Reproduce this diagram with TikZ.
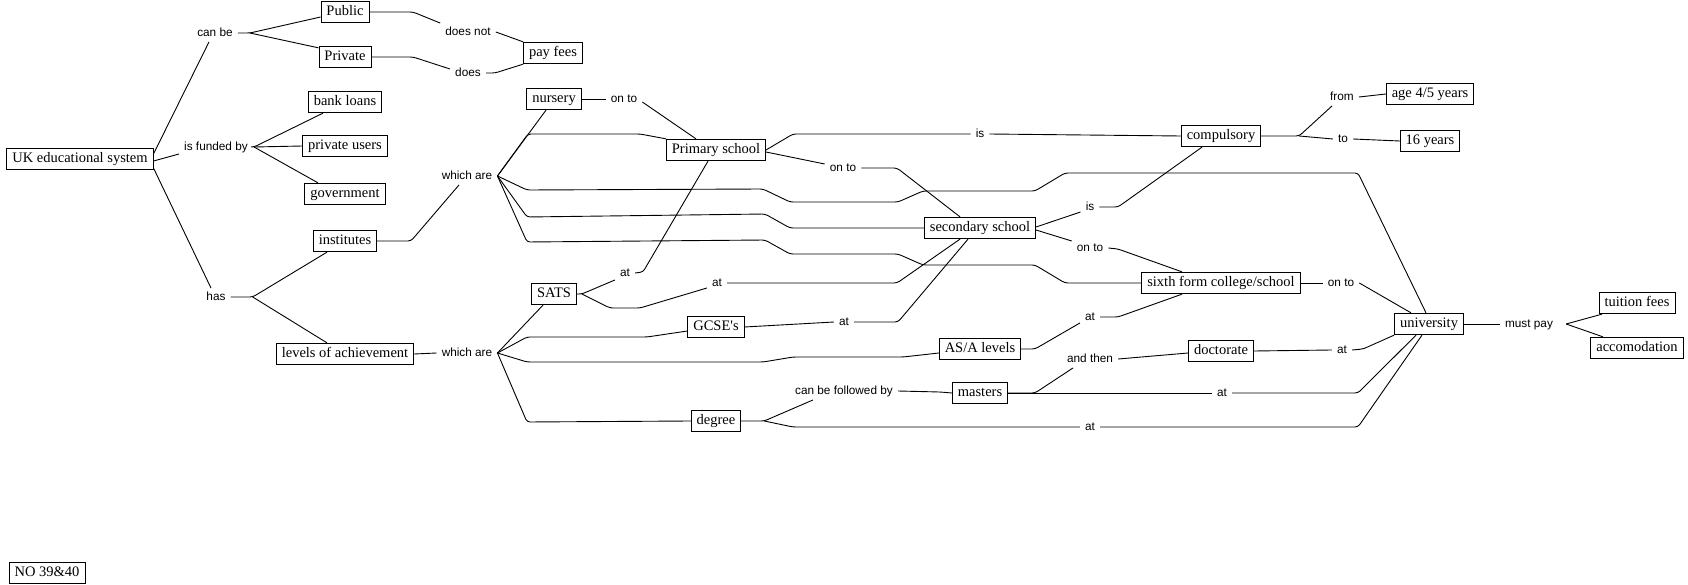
\documentclass[tikz,border=0pt]{standalone}
\usepackage{fontspec}
\setmainfont{Liberation Serif}[Ligatures=TeXOff]
\newfontfamily\labfont{Liberation Sans}
\begin{document}
\begin{tikzpicture}[x=1pt,y=-1pt,
 concept/.style={draw, fill=white, line width=0.8pt, font=\fontsize{14.5}{16}\selectfont, inner xsep=5.5pt, inner ysep=4pt, text height=10pt, text depth=3.5pt},
 lab/.style={font=\labfont\fontsize{11.8}{14}\selectfont, inner xsep=5pt, inner ysep=3pt, text height=9pt, text depth=2.5pt},
 link/.style={draw, line width=0.9pt, rounded corners=3pt}]
\useasboundingbox (0,0) rectangle (1688,585);
% concepts
\node[concept] (UK) at (80,159) {UK educational system};
\node[concept] (Public) at (345,12) {Public};
\node[concept] (Private) at (345,57) {Private};
\node[concept] (payfees) at (553,53) {pay fees};
\node[concept] (bank) at (345,102) {bank loans};
\node[concept] (privusers) at (345,146) {private users};
\node[concept] (gov) at (345,194) {government};
\node[concept] (inst) at (345,241) {institutes};
\node[concept] (levels) at (345,354) {levels of achievement};
\node[concept] (nursery) at (554,99) {nursery};
\node[concept] (primary) at (716,150) {Primary school};
\node[concept] (compulsory) at (1221,136) {compulsory};
\node[concept] (age) at (1430,94) {age 4/5 years};
\node[concept] (sixteen) at (1430,141) {16 years};
\node[concept] (secondary) at (980,228) {secondary school};
\node[concept] (sixth) at (1221,283) {sixth form college/school};
\node[concept] (univ) at (1429,324) {university};
\node[concept] (tuition) at (1637,303) {tuition fees};
\node[concept] (accom) at (1637,348) {accomodation};
\node[concept] (sats) at (554,294) {SATS};
\node[concept] (gcse) at (716,327) {GCSE's};
\node[concept] (asa) at (980,349) {AS/A levels};
\node[concept] (doct) at (1221,351) {doctorate};
\node[concept] (masters) at (980,393) {masters};
\node[concept] (degree) at (716,421) {degree};
\node[concept] (NOnode) at (47,573) {NO 39\&40};
% linking phrases
\node[lab] (Lcanbe) at (215,33) {can be};
\node[lab] (Ldoesnot) at (468,32) {does not};
\node[lab] (Ldoes) at (468,73) {does};
\node[lab] (Lfunded) at (216,147) {is funded by};
\node[lab] (Lhas) at (216,297) {has};
\node[lab] (LwhichA) at (467,176) {which are};
\node[lab] (LwhichB) at (467,353) {which are};
\node[lab] (LontoN) at (624,99) {on to};
\node[lab] (LontoP) at (843,168) {on to};
\node[lab] (LisP) at (980,134) {is};
\node[lab] (LisS) at (1090,207) {is};
\node[lab] (LontoS) at (1090,248) {on to};
\node[lab] (LontoX) at (1341,283) {on to};
\node[lab] (Lfrom) at (1342,97) {from};
\node[lab] (Lto) at (1343,139) {to};
\node[lab] (LatSP) at (625,273) {at};
\node[lab] (LatSS) at (717,283) {at};
\node[lab] (LatG) at (844,322) {at};
\node[lab] (LatA) at (1090,317) {at};
\node[lab] (Lfollowed) at (844,391) {can be followed by};
\node[lab] (Landthen) at (1090,359) {and then};
\node[lab] (LatD) at (1342,350) {at};
\node[lab] (LatM) at (1222,393) {at};
\node[lab] (LatDeg) at (1090,427) {at};
\node[lab] (Lmustpay) at (1529,324) {must pay};
% connectors
\path[link] ([yshift=-6pt]UK.north east) -- ([xshift=-6pt]Lcanbe.south);
\path[link] (Lcanbe.east) -- ++(12,0) coordinate (jcan) -- ([yshift=-5pt]Public.west);
\path[link] (jcan) -- ([yshift=-2pt]Private.north west);
\path[link] (Public.east) -- (413,12) -- (Ldoesnot.north west);
\path[link] (Ldoesnot.east) -- (payfees.north west);
\path[link] (Private.east) -- (413,57) -- ([yshift=4pt]Ldoes.west);
\path[link] (Ldoes.east) -- ++(9,0) -- (payfees.south west);
\path[link] ([yshift=-2pt]UK.east) -- ([yshift=-7pt]Lfunded.west);
\path[link] (Lfunded.east) -- ++(1,0) coordinate (jfund) -- ([xshift=-22pt]bank.south);
\path[link] (jfund) -- (privusers.west);
\path[link] (jfund) -- ([xshift=-27pt]gov.north);
\path[link] ([yshift=2pt]UK.south east) -- ([xshift=-5pt]Lhas.north);
\path[link] (Lhas.east) -- ++(22,0) coordinate (jhas) -- ([xshift=-18pt]inst.south);
\path[link] (jhas) -- ([xshift=-18pt]levels.north);
\path[link] (inst.east) -- (411,241) -- ([xshift=-8pt]LwhichA.south);
\path[link] (levels.east) -- (LwhichB.west);
% which are (institutes)
\path[link] (LwhichA.east) -- ([xshift=-8pt]nursery.south);
\path[link] (LwhichA.east) -- (528,134) -- (640,134) -- (primary.north west);
\path[link] (LwhichA.east) -- (527,190) -- (763,189) -- (790,202) -- (898,202) -- (923,191) -- (1035,191) -- (1065,173) -- (1358,173) -- ([xshift=-3pt]univ.north);
\path[link] (LwhichA.east) -- (527,217) -- (765,214) -- (790,228) -- (secondary.west);
\path[link] (LwhichA.east) -- (527,242) -- (765,240) -- (790,254) -- (898,254) -- (923,265) -- (1035,265) -- (1065,283) -- (sixth.west);
\path[link] (nursery.east) -- (LontoN.west);
\path[link] ([yshift=-3pt]LontoN.east) -- ([xshift=-20pt]primary.north);
\path[link] (primary.east) -- (793,134) -- (LisP.west);
\path[link] (LisP.east) -- (compulsory.west);
\path[link] ([yshift=-2pt]primary.east) -- ([yshift=4pt]LontoP.west);
\path[link] (LontoP.east) -- (897,168) -- ([xshift=-20pt]secondary.north);
\path[link] ([yshift=1pt]secondary.east) -- ([yshift=-5pt]LisS.west);
\path[link] (LisS.east) -- (1118,207) -- ([xshift=-19pt]compulsory.south);
\path[link] ([yshift=-2pt]secondary.east) -- ([yshift=7pt]LontoS.west);
\path[link] (LontoS.east) -- (1118,249) -- ([xshift=-39pt]sixth.north);
\path[link] (sixth.east) -- (LontoX.west);
\path[link] (LontoX.east) -- ([xshift=-18pt]univ.north);
\path[link] (compulsory.east) -- ++(38,0) coordinate (jcomp) -- ([xshift=-10pt]Lfrom.south);
\path[link] (jcomp) -- (Lto.west);
\path[link] (Lfrom.east) -- (age.west);
\path[link] (Lto.east) -- (sixteen.west);
% which are (levels)
\path[link] (LwhichB.east) -- ([xshift=-11pt]sats.south);
\path[link] (LwhichB.east) -- (527,337) -- (647,337) -- ([yshift=-4pt]gcse.west);
\path[link] (LwhichB.east) -- (527,362) -- (763,362) -- (793,357) -- (903,357) -- ([yshift=-4pt]asa.west);
\path[link] (LwhichB.east) -- (527,422) -- (degree.west);
\path[link] (sats.east) -- ++(5,0) coordinate (jsats) -- ([yshift=-7pt]LatSP.west);
\path[link] (LatSP.east) -- (643,272) -- ([xshift=-8pt]primary.south);
\path[link] (jsats) -- (610,308) -- (640,308) -- ([yshift=-5pt]LatSS.west);
\path[link] (LatSS.east) -- (897,283) -- ([xshift=-20pt]secondary.south);
\path[link] (gcse.east) -- (LatG.west);
\path[link] (LatG.east) -- (898,322) -- ([xshift=-12pt]secondary.south);
\path[link] (asa.east) -- (1035,349) -- ([yshift=-6pt]LatA.west);
\path[link] (LatA.east) -- (1118,317) -- ([xshift=-39pt]sixth.south);
\path[link] (degree.east) -- ++(23,0) coordinate (jdeg) -- ([xshift=-31pt]Lfollowed.south);
\path[link] (Lfollowed.east) -- (940,392) -- (masters.west);
\path[link] (jdeg) -- (793,427) -- (LatDeg.west);
\path[link] (LatDeg.east) -- (1358,427) -- ([xshift=-7pt]univ.south);
\path[link] (masters.east) -- (1035,393) -- ([xshift=-17pt]Landthen.south);
\path[link] (Landthen.east) -- ([yshift=-2pt]doct.west);
\path[link] (masters.east) -- (LatM.west);
\path[link] (LatM.east) -- (1358,393) -- ([xshift=-13pt]univ.south);
\path[link] (doct.east) -- (LatD.west);
\path[link] (LatD.east) -- (1363,349) -- (univ.south west);
\path[link] (univ.east) -- (Lmustpay.west);
\coordinate (jmust) at ([xshift=8pt]Lmustpay.east);
\path[link] (jmust) -- ([xshift=-35pt]tuition.south);
\path[link] (jmust) -- ([xshift=-34pt]accom.north);
\end{tikzpicture}
\end{document}
